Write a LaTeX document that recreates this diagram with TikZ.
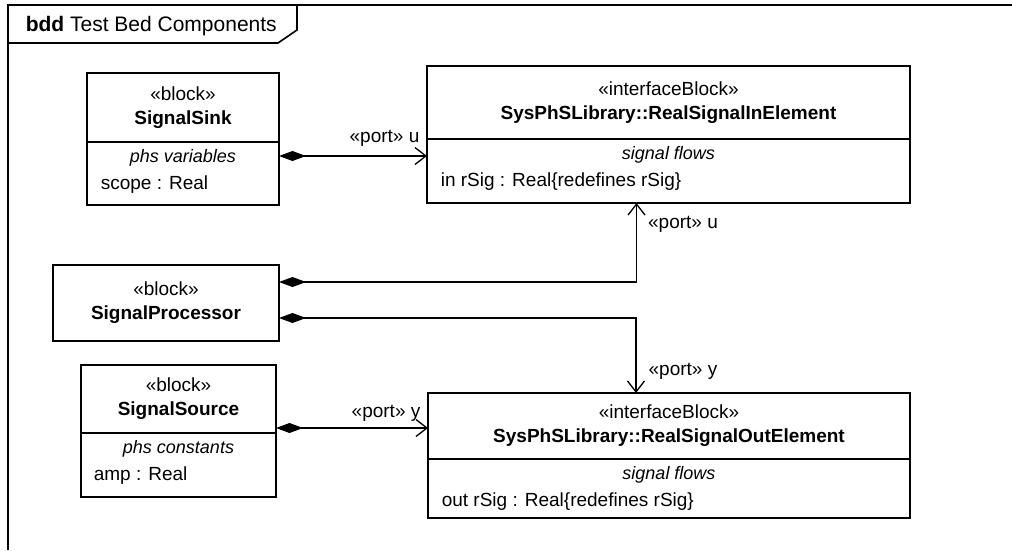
\documentclass[tikz,border=0pt]{standalone}
\usepackage{fontspec}
\setmainfont{Liberation Sans}
\usepackage{tikz}
\usetikzlibrary{positioning, arrows.meta, calc}

\begin{document}
\begin{tikzpicture}[
    x=1pt, y=-1pt,
    font=\fontsize{19}{24}\selectfont,
    line width=1.6pt,
    head/.style={draw, rectangle, outer sep=0pt, inner sep=0pt, align=center},
    body/.style={draw, rectangle, outer sep=0pt, inner sep=0pt},
    title/.style={font=\fontsize{18}{20}\selectfont\itshape, inner sep=0pt},
    entry/.style={inner sep=0pt},
    part/.style={line width=1.3pt, {Diamond[length=27pt, width=10pt]}-{Straight Barb[length=11pt, width=17pt]}},
    portlabel/.style={inner sep=0pt}
]
\useasboundingbox (0,0) rectangle (1012,550);

% Macros for repeated elements
% #1 name, #2 centre of header, #3 width, #4 header height, #5 body height,
% #6 header text, #7 compartment title, #8 compartment entry, #9 entry indent
\newcommand{\blockBox}[9]{
    \node[head, minimum width=#3, minimum height=#4] (#1H) at #2 {#6};
    \node[body, minimum width=#3, minimum height=#5, below=0pt of #1H] (#1B) {};
    \node[title, below=20pt of #1B.north, anchor=base] (#1T) {#7};
    \node[entry, below=47pt of #1B.north west, anchor=base west, xshift=#9] (#1E) {#8};
}

% ==========================================
% Frame
\draw (8,550) -- (8,5) -- (1012,5);
\draw (8,43) -- (278,43) -- (297,30) -- (297,5);
\node[anchor=base west, inner sep=0pt, font=\fontsize{21}{24}\selectfont] (frameName) at (25,31) {\textbf{bdd} Test Bed Components};

% ==========================================
% Blocks
\blockBox{sink}{(183,107.5)}{192}{69}{63}{«block»\\\textbf{SignalSink}}{phs variables}{scope : Real}{13pt}
\blockBox{inEl}{(668.5,102.5)}{483}{73}{64}{«interfaceBlock»\\\textbf{SysPhSLibrary::RealSignalInElement}}{signal flows}{in rSig : Real\{redefines rSig\}}{13pt}
\node[head, minimum width=226, minimum height=76] (proc) at (166,303) {«block»\\\textbf{SignalProcessor}};
\blockBox{src}{(178.5,399)}{195}{68}{64}{«block»\\\textbf{SignalSource}}{phs constants}{amp : Real}{12pt}
\blockBox{outEl}{(669,426)}{482}{66}{59}{«interfaceBlock»\\\textbf{SysPhSLibrary::RealSignalOutElement}}{signal flows}{out rSig : Real\{redefines rSig\}}{13pt}

% ==========================================
% Ports
\coordinate (sinkPort) at ([yshift=-14pt]sinkB.north east);
\coordinate (srcPort) at ([yshift=5pt]srcH.south east);
\coordinate (procU) at ([yshift=-17pt]proc.north east);
\coordinate (procY) at ([yshift=23pt]proc.south east);
\coordinate (inPortU) at ([xshift=-32pt]inElB.south);
\coordinate (outPortY) at ([xshift=-33pt]outElH.north);

\draw[part] (sinkPort) -- (sinkPort -| inElB.west)
    node[portlabel, pos=1, anchor=base east, xshift=-7pt, yshift=14pt] (sinkLbl) {«port» u};
\draw[part] (srcPort) -- (srcPort -| outElH.west)
    node[portlabel, pos=1, anchor=base east, xshift=-7pt, yshift=11pt] (srcLbl) {«port» y};
\draw[part] (procU) -| (inPortU)
    node[portlabel, pos=1, anchor=base west, xshift=11pt, yshift=-25pt] (procULbl) {«port» u};
\draw[part] (procY) -| (outPortY)
    node[portlabel, pos=1, anchor=base west, xshift=12pt, yshift=18pt] (procYLbl) {«port» y};

\end{tikzpicture}
\end{document}
